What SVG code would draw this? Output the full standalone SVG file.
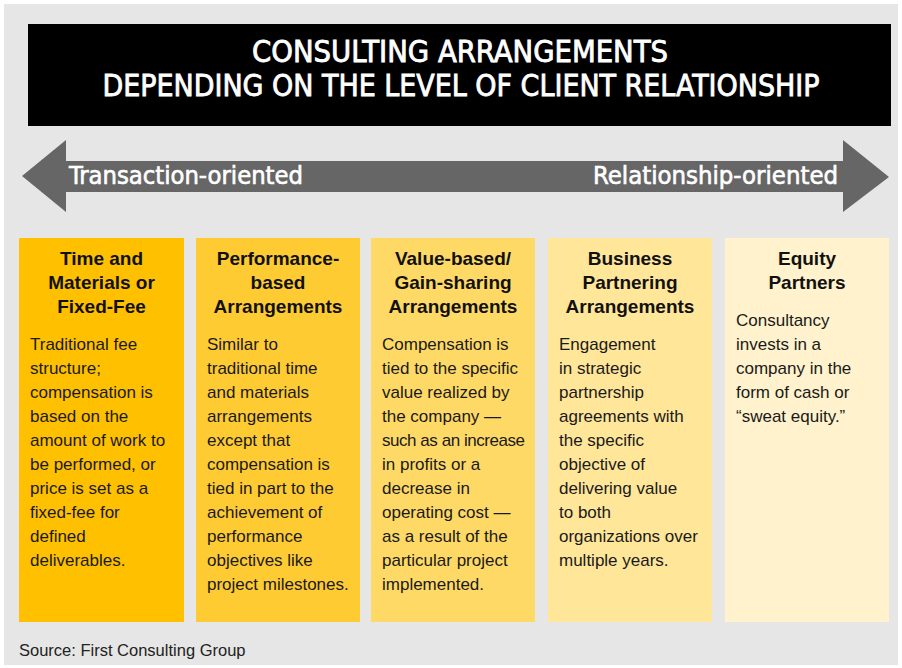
<svg xmlns="http://www.w3.org/2000/svg" width="902" height="668" viewBox="0 0 902 668">
  <style>
    .title { font-family: "Liberation Sans Narrow", "DejaVu Sans Condensed", "Liberation Sans", sans-serif; font-size: 30px; fill: #ffffff; stroke: #ffffff; stroke-width: 0.8px; text-anchor: middle; }
    .scale { font-family: "Liberation Sans Narrow", "DejaVu Sans Condensed", "Liberation Sans", sans-serif; font-size: 25px; fill: #ffffff; stroke: #ffffff; stroke-width: 0.6px; }
    .head { font-family: "Liberation Sans", Arial, sans-serif; font-size: 19px; font-weight: bold; fill: #111111; text-anchor: middle; }
    .body { font-family: "Liberation Sans", Arial, sans-serif; font-size: 17px; fill: #1a1a1a; }
    .note { font-family: "Liberation Sans", Arial, sans-serif; font-size: 16.5px; fill: #222222; }
  </style>

  <!-- page -->
  <rect x="0" y="0" width="902" height="668" fill="#ffffff"/>
  <rect x="4" y="4" width="894" height="661" fill="#e6e6e6"/>

  <!-- title banner -->
  <g id="title">
    <rect x="28" y="24" width="863" height="102" fill="#000000"/>
    <text class="title" x="460" y="62" textLength="416" lengthAdjust="spacingAndGlyphs">CONSULTING ARRANGEMENTS</text>
    <text class="title" x="461" y="96" textLength="717" lengthAdjust="spacingAndGlyphs">DEPENDING ON THE LEVEL OF CLIENT RELATIONSHIP</text>
  </g>

  <!-- double-headed scale arrow -->
  <g id="connectors">
    <g id="scale-arrow">
      <polygon points="22,176 66,140 66,161 843,161 843,140 889,177 843,212 843,192 66,192 66,212" fill="#666666"/>
      <text class="scale" x="69" y="184" textLength="234" lengthAdjust="spacingAndGlyphs">Transaction-oriented</text>
      <text class="scale" x="593" y="184" textLength="245" lengthAdjust="spacingAndGlyphs">Relationship-oriented</text>
    </g>
  </g>

  <!-- column 1 -->
  <g id="time-materials">
    <rect x="19" y="238" width="165" height="384" fill="#ffc000"/>
    <text class="head" x="101.5" y="265">Time and</text>
    <text class="head" x="101.5" y="289">Materials or</text>
    <text class="head" x="101.5" y="313">Fixed-Fee</text>
    <text class="body" x="30" y="350">Traditional fee</text>
    <text class="body" x="30" y="374">structure;</text>
    <text class="body" x="30" y="398">compensation is</text>
    <text class="body" x="30" y="422">based on the</text>
    <text class="body" x="30" y="446">amount of work to</text>
    <text class="body" x="30" y="470">be performed, or</text>
    <text class="body" x="30" y="494">price is set as a</text>
    <text class="body" x="30" y="518">fixed-fee for</text>
    <text class="body" x="30" y="542">defined</text>
    <text class="body" x="30" y="566">deliverables.</text>
  </g>

  <!-- column 2 -->
  <g id="performance-based">
    <rect x="196" y="238" width="164" height="384" fill="#ffcb33"/>
    <text class="head" x="278" y="265">Performance-</text>
    <text class="head" x="278" y="289">based</text>
    <text class="head" x="278" y="313">Arrangements</text>
    <text class="body" x="207" y="350">Similar to</text>
    <text class="body" x="207" y="374">traditional time</text>
    <text class="body" x="207" y="398">and materials</text>
    <text class="body" x="207" y="422">arrangements</text>
    <text class="body" x="207" y="446">except that</text>
    <text class="body" x="207" y="470">compensation is</text>
    <text class="body" x="207" y="494">tied in part to the</text>
    <text class="body" x="207" y="518">achievement of</text>
    <text class="body" x="207" y="542">performance</text>
    <text class="body" x="207" y="566">objectives like</text>
    <text class="body" x="207" y="590">project milestones.</text>
  </g>

  <!-- column 3 -->
  <g id="value-based">
    <rect x="371" y="238" width="164" height="384" fill="#ffd966"/>
    <text class="head" x="453" y="265">Value-based/</text>
    <text class="head" x="453" y="289">Gain-sharing</text>
    <text class="head" x="453" y="313">Arrangements</text>
    <text class="body" x="382" y="350">Compensation is</text>
    <text class="body" x="382" y="374">tied to the specific</text>
    <text class="body" x="382" y="398">value realized by</text>
    <text class="body" x="382" y="422">the company —</text>
    <text class="body" x="382" y="446" textLength="143" lengthAdjust="spacing">such as an increase</text>
    <text class="body" x="382" y="470">in profits or a</text>
    <text class="body" x="382" y="494">decrease in</text>
    <text class="body" x="382" y="518">operating cost —</text>
    <text class="body" x="382" y="542">as a result of the</text>
    <text class="body" x="382" y="566">particular project</text>
    <text class="body" x="382" y="590">implemented.</text>
  </g>

  <!-- column 4 -->
  <g id="business-partnering">
    <rect x="548" y="238" width="164" height="384" fill="#ffe699"/>
    <text class="head" x="630" y="265">Business</text>
    <text class="head" x="630" y="289">Partnering</text>
    <text class="head" x="630" y="313">Arrangements</text>
    <text class="body" x="559" y="350">Engagement</text>
    <text class="body" x="559" y="374">in strategic</text>
    <text class="body" x="559" y="398">partnership</text>
    <text class="body" x="559" y="422">agreements with</text>
    <text class="body" x="559" y="446">the specific</text>
    <text class="body" x="559" y="470">objective of</text>
    <text class="body" x="559" y="494">delivering value</text>
    <text class="body" x="559" y="518">to both</text>
    <text class="body" x="559" y="542">organizations over</text>
    <text class="body" x="559" y="566">multiple years.</text>
  </g>

  <!-- column 5 -->
  <g id="equity-partners">
    <rect x="725" y="238" width="164" height="384" fill="#fff2cc"/>
    <text class="head" x="807" y="265">Equity</text>
    <text class="head" x="807" y="289">Partners</text>
    <text class="body" x="736" y="326">Consultancy</text>
    <text class="body" x="736" y="350">invests in a</text>
    <text class="body" x="736" y="374">company in the</text>
    <text class="body" x="736" y="398">form of cash or</text>
    <text class="body" x="736" y="422">“sweat equity.”</text>
  </g>

  <!-- source line -->
  <g id="source">
    <text class="note" x="19" y="656">Source: First Consulting Group</text>
  </g>
</svg>
